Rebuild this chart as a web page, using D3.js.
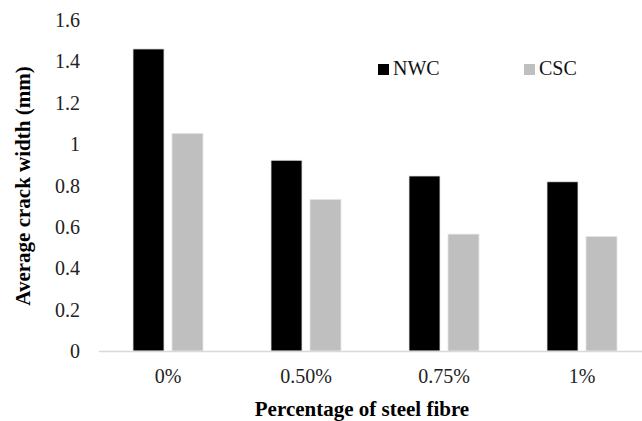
<!DOCTYPE html>
<html>
<head>
<meta charset="utf-8">
<script src="https://cdn.jsdelivr.net/npm/d3@7"></script>
<style>
  body { margin: 0; background: #fff; }
  svg { display: block; font-family: "Liberation Serif", "Times New Roman", serif; }
</style>
</head>
<body>
<div id="chart"></div>
<script>
// values
const categories = ["0%", "0.50%", "0.75%", "1%"];
const series = ["NWC", "CSC"];
const nwcValues = [1.46, 0.922, 0.846, 0.818];
const cscValues = [1.052, 0.733, 0.565, 0.554];
const yTicks = [0, 0.2, 0.4, 0.6, 0.8, 1, 1.2, 1.4, 1.6];

const width = 642, height = 421;
const colors = { NWC: "#000000", CSC: "#bfbfbf" };

const svg = d3.select("#chart").append("svg")
    .attr("width", width)
    .attr("height", height);

const y = d3.scaleLinear().domain([0, 1.6]).range([351, 20]);

// the plot runs past the right edge of the picture (cropped), so the range goes beyond 642
const x0 = d3.scaleBand().domain(categories).range([99, 651]);
const x1 = d3.scaleBand().domain(series).range([34, 104]).paddingInner(0.205);

const rows = categories.map((c, i) => ({ cat: c, NWC: nwcValues[i], CSC: cscValues[i] }));

// y tick labels (no axis line, no gridlines)
svg.append("g")
    .selectAll("text")
    .data(yTicks)
    .join("text")
    .attr("x", 80)
    .attr("y", d => y(d))
    .attr("dy", "0.35em")
    .attr("text-anchor", "end")
    .attr("font-size", 20)
    .attr("fill", "#222")
    .text(d => d3.format("")(d));

// bars
const groups = svg.append("g")
    .selectAll("g")
    .data(rows)
    .join("g")
    .attr("transform", d => `translate(${x0(d.cat)},0)`);

groups.selectAll("rect")
    .data(d => series.map(s => ({ key: s, value: d[s] })))
    .join("rect")
    .attr("x", d => x1(d.key))
    .attr("width", x1.bandwidth())
    .attr("y", d => y(d.value))
    .attr("height", d => y(0) - y(d.value))
    .attr("fill", d => colors[d.key])
    .attr("stroke", "#e6e6e6")
    .attr("stroke-width", 0.8);

// x axis line
svg.append("line")
    .attr("x1", x0.range()[0])
    .attr("x2", x0.range()[1])
    .attr("y1", y(0) + 0.5)
    .attr("y2", y(0) + 0.5)
    .attr("stroke", "#d9d9d9")
    .attr("stroke-width", 1.5);

// x tick labels
svg.append("g")
    .selectAll("text")
    .data(categories)
    .join("text")
    .attr("x", d => x0(d) + x0.bandwidth() / 2)
    .attr("y", 383)
    .attr("text-anchor", "middle")
    .attr("font-size", 20)
    .attr("fill", "#222")
    .text(d => d);

// axis titles
svg.append("text")
    .attr("x", 362)
    .attr("y", 416)
    .attr("text-anchor", "middle")
    .attr("font-size", 21)
    .attr("font-weight", "bold")
    .text("Percentage of steel fibre");

svg.append("text")
    .attr("transform", "translate(30,186) rotate(-90)")
    .attr("text-anchor", "middle")
    .attr("font-size", 21)
    .attr("font-weight", "bold")
    .text("Average crack width (mm)");

// legend
const legendX = [378, 524];
const legend = svg.append("g")
    .selectAll("g")
    .data(series)
    .join("g")
    .attr("transform", (d, i) => `translate(${legendX[i]},64)`);

legend.append("rect")
    .attr("width", 11)
    .attr("height", 11)
    .attr("fill", d => colors[d]);

legend.append("text")
    .attr("x", 15)
    .attr("y", 11)
    .attr("font-size", 20)
    .attr("fill", "#111")
    .text(d => d);
</script>
</body>
</html>
